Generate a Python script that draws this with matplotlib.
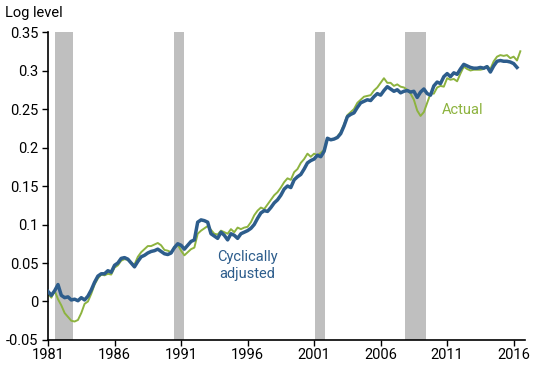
import numpy as np
import matplotlib
matplotlib.use("Agg")
import matplotlib.pyplot as plt

plt.rcParams['font.family'] = ['Roboto', 'DejaVu Sans']

start_year = 1981.0
adjusted = [
    0.013, 0.008, 0.014, 0.022, 0.008, 0.005, 0.006, 0.002,   # 1981-82
    0.003, 0.001, 0.005, 0.002, 0.007, 0.015, 0.025, 0.033,   # 1983-84
    0.036, 0.036, 0.040, 0.038, 0.047, 0.050, 0.056, 0.057,   # 1985-86
    0.055, 0.050, 0.045, 0.052, 0.058, 0.060, 0.063, 0.065,   # 1987-88
    0.066, 0.068, 0.065, 0.062, 0.061, 0.063, 0.070, 0.075,   # 1989-90
    0.073, 0.068, 0.073, 0.078, 0.080, 0.103, 0.106, 0.105,   # 1991-92
    0.103, 0.088, 0.085, 0.082, 0.090, 0.086, 0.080, 0.088,   # 1993-94
    0.086, 0.082, 0.088, 0.090, 0.092, 0.095, 0.100, 0.108,   # 1995-96
    0.115, 0.118, 0.117, 0.122, 0.128, 0.132, 0.138, 0.146,   # 1997-98
    0.150, 0.148, 0.158, 0.162, 0.165, 0.172, 0.180, 0.183,   # 1999-00
    0.185, 0.190, 0.188, 0.195, 0.212, 0.210, 0.211, 0.213,   # 2001-02
    0.218, 0.228, 0.240, 0.243, 0.245, 0.252, 0.258, 0.260,   # 2003-04
    0.262, 0.261, 0.266, 0.270, 0.268, 0.274, 0.279, 0.276,   # 2005-06
    0.273, 0.275, 0.271, 0.273, 0.274, 0.272, 0.273, 0.265,   # 2007-08
    0.272, 0.276, 0.270, 0.268, 0.280, 0.285, 0.283, 0.292,   # 2009-10
    0.296, 0.292, 0.297, 0.295, 0.302, 0.308, 0.306, 0.304,   # 2011-12
    0.303, 0.303, 0.304, 0.303, 0.305, 0.298, 0.306, 0.312,   # 2013-14
    0.313, 0.312, 0.312, 0.311, 0.309, 0.304,                 # 2015-16
]
actual = [
    0.010, 0.005, 0.014, 0.003, -0.005, -0.015, -0.020, -0.025,
    -0.026, -0.024, -0.015, -0.003, 0.000, 0.010, 0.022, 0.030,
    0.035, 0.034, 0.036, 0.035, 0.044, 0.047, 0.053, 0.055,
    0.054, 0.050, 0.048, 0.058, 0.064, 0.068, 0.072, 0.072,
    0.074, 0.076, 0.073, 0.067, 0.066, 0.064, 0.069, 0.074,
    0.066, 0.060, 0.064, 0.068, 0.070, 0.088, 0.092, 0.095,
    0.098, 0.093, 0.088, 0.087, 0.092, 0.090, 0.088, 0.094,
    0.090, 0.096, 0.094, 0.096, 0.097, 0.103, 0.112, 0.118,
    0.122, 0.120, 0.126, 0.132, 0.138, 0.142, 0.148, 0.155,
    0.160, 0.158, 0.168, 0.172, 0.180, 0.185, 0.192, 0.188,
    0.192, 0.190, 0.193, 0.197, 0.212, 0.210, 0.211, 0.214,
    0.220, 0.230, 0.242, 0.246, 0.250, 0.258, 0.262, 0.266,
    0.267, 0.268, 0.274, 0.278, 0.284, 0.290, 0.284, 0.284,
    0.280, 0.282, 0.279, 0.278, 0.275, 0.270, 0.262, 0.248,
    0.241, 0.246, 0.258, 0.270, 0.270, 0.278, 0.280, 0.279,
    0.290, 0.288, 0.289, 0.286, 0.296, 0.305, 0.302, 0.300,
    0.301, 0.301, 0.301, 0.302, 0.306, 0.302, 0.312, 0.318,
    0.320, 0.319, 0.320, 0.316, 0.318, 0.313, 0.325,
]
recession_starts = [1981.5, 1990.5, 2001.1, 2007.8]
recession_ends = [1982.85, 1991.2, 2001.8, 2009.4]
xticks = [1981, 1986, 1991, 1996, 2001, 2006, 2011, 2016]
yticks = [-0.05, 0, 0.05, 0.1, 0.15, 0.2, 0.25, 0.3, 0.35]
ytick_labels = ['-0.05', '0', '0.05', '0.1', '0.15', '0.2', '0.25', '0.3', '0.35']

x_adj = start_year + np.arange(len(adjusted)) * 0.25
x_act = start_year + np.arange(len(actual)) * 0.25

fig = plt.figure(figsize=(5.5, 3.65), dpi=100)
ax = fig.add_axes([0.0873, 0.0685, 0.8672, 0.8438])

for s, e in zip(recession_starts, recession_ends):
    ax.axvspan(s, e, color='#bfbfbf', lw=0, zorder=0)

ax.plot(x_act, actual, color='#8db33f', lw=1.4, zorder=2)
ax.plot(x_adj, adjusted, color='#2d5d8c', lw=2.5, zorder=3)

ax.set_xlim(1981, 2016.85)
ax.set_ylim(-0.05, 0.35)
ax.set_xticks(xticks)
ax.set_xticklabels([str(t) for t in xticks])
ax.set_yticks(yticks)
ax.set_yticklabels(ytick_labels)
ax.tick_params(axis='both', labelsize=10.5, length=4, width=1, color='black', direction='out')
ax.tick_params(axis='x', pad=2)
ax.tick_params(axis='y', pad=3)
for sp in ['top', 'right']:
    ax.spines[sp].set_visible(False)
for sp in ['left', 'bottom']:
    ax.spines[sp].set_linewidth(1.2)

fig.text(0.009, 0.965, 'Log level', fontsize=10.5, ha='left', va='center')
ax.text(1996.0, 0.047, 'Cyclically\nadjusted', color='#2d5d8c', fontsize=10.5,
        ha='center', va='center', linespacing=1.3)
ax.text(2010.6, 0.249, 'Actual', color='#8db33f', fontsize=10.5, ha='left', va='center')

fig.savefig('out.png', dpi=100)
